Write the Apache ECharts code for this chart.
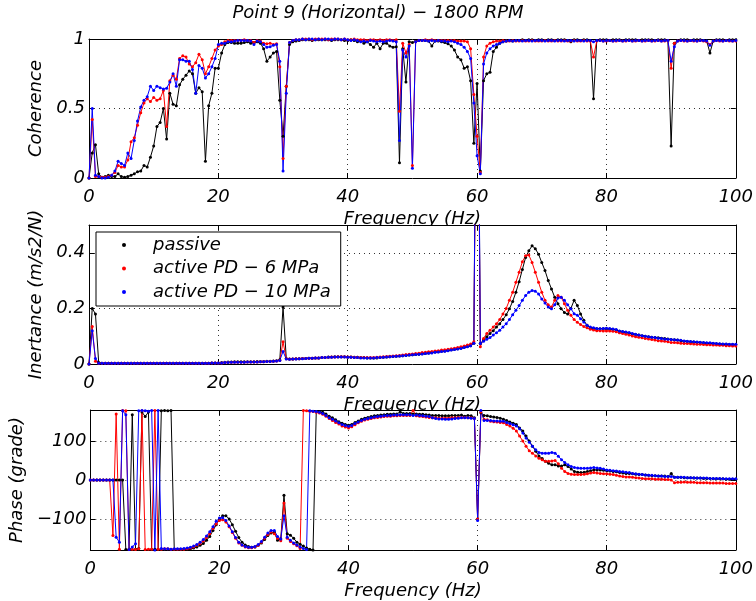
<!DOCTYPE html>
<html><head><meta charset="utf-8">
<script src="https://cdn.jsdelivr.net/npm/echarts@6.0.0/dist/echarts.min.js"></script>
<style>html,body{margin:0;padding:0;background:#fff}#c{width:756px;height:601px}</style>
</head><body><div id="c"></div>
<script>
const TITLE = 'Point 9 (Horizontal) − 1800 RPM';
const SERIES_NAMES = ['passive', 'active PD − 6 MPa', 'active PD − 10 MPa'];
const X_NAME = 'Frequency (Hz)';
const Y_NAMES = ['Coherence', 'Inertance (m/s2/N)', 'Phase (grade)'];
const X_TICKS = [0, 20, 40, 60, 80, 100];
const Y_TICKS_COH = [0, 0.5, 1];
const Y_TICKS_INER = [0, 0.2, 0.4];
const Y_TICKS_PHASE = [-100, 0, 100];

const freq = [
0,0.5,1,1.5,2,2.5,3,3.5,4,4.5,5,5.5,6,6.5,7,7.5,8,8.5,9,9.5,
10,10.5,11,11.5,12,12.5,13,13.5,14,14.5,15,15.5,16,16.5,17,17.5,18,18.5,19,19.5,
20,20.5,21,21.5,22,22.5,23,23.5,24,24.5,25,25.5,26,26.5,27,27.5,28,28.5,29,29.5,
30,30.5,31,31.5,32,32.5,33,33.5,34,34.5,35,35.5,36,36.5,37,37.5,38,38.5,39,39.5,
40,40.5,41,41.5,42,42.5,43,43.5,44,44.5,45,45.5,46,46.5,47,47.5,48,48.5,49,49.5,
50,50.5,51,51.5,52,52.5,53,53.5,54,54.5,55,55.5,56,56.5,57,57.5,58,58.5,59,59.5,
60,60.5,61,61.5,62,62.5,63,63.5,64,64.5,65,65.5,66,66.5,67,67.5,68,68.5,69,69.5,
70,70.5,71,71.5,72,72.5,73,73.5,74,74.5,75,75.5,76,76.5,77,77.5,78,78.5,79,79.5,
80,80.5,81,81.5,82,82.5,83,83.5,84,84.5,85,85.5,86,86.5,87,87.5,88,88.5,89,89.5,
90,90.5,91,91.5,92,92.5,93,93.5,94,94.5,95,95.5,96,96.5,97,97.5,98,98.5,99,99.5,
100];

// Coherence
const cohPassive = [
0,.18,.24,.03,.005,.01,.02,.01,.01,.03,.01,.005,.01,.02,.03,.045,.05,.09,.08,.15,
.23,.37,.40,.50,.28,.61,.53,.52,.67,.71,.74,.77,.75,.61,.65,.62,.12,.52,.61,.79,
.79,.90,.96,.975,.975,.97,.97,.97,.975,.98,.97,.975,.98,.97,.93,.84,.87,.90,.91,.56,
.30,.66,.96,.98,.985,.99,.995,.995,.995,.99,.995,.995,.995,.995,.995,.99,.995,.995,.995,.99,
.99,.995,.99,.98,.99,.97,.98,.96,.94,.97,.93,.97,.97,.95,.94,.945,.11,.93,.69,.98,
.975,.985,.99,.99,.99,.985,.95,.985,.985,.98,.975,.965,.95,.92,.87,.85,.79,.80,.70,.25,
.68,.05,.70,.75,.76,.91,.94,.97,.98,.985,.99,.985,.99,.99,.995,.99,.995,.995,.99,.995,
.995,.99,.995,.995,.99,.995,.995,.995,.99,.98,.995,.995,.99,.995,.995,.99,.57,.99,.995,.995,
.995,.99,.995,.995,.995,.99,.995,.995,.995,.995,.99,.995,.995,.995,.995,.99,.995,.995,.995,.99,
.23,.97,.99,.995,.995,.995,.99,.995,.995,.995,.99,.985,.90,.985,.995,.995,.995,.99,.995,.995,
.995];
const cohPD6 = [
0,.42,.01,.01,.005,.005,.01,.02,.04,.09,.08,.08,.13,.26,.29,.38,.47,.54,.57,.55,
.58,.56,.57,.63,.37,.70,.74,.71,.86,.88,.87,.82,.80,.83,.89,.85,.75,.80,.86,.92,
.95,.96,.98,.99,.99,.99,.99,.99,.995,.99,.99,.975,.99,.985,.97,.965,.97,.96,.965,.80,
.14,.66,.975,.99,.995,.995,1,1,1,.995,1,1,1,1,.995,1,1,1,.995,1,
.995,.995,1,.995,.995,.995,.99,.995,.995,.99,.995,.99,.995,.995,.99,.995,.48,.97,.90,.96,
.09,.98,.99,.99,.995,.99,.995,.99,.99,.99,.99,.99,.99,.99,.985,.985,.985,.98,.93,.60,
.30,.04,.87,.95,.97,.98,.985,.985,.99,.985,.985,.99,.985,.985,.99,.985,.985,.99,.985,.985,
.985,.99,.985,.985,.99,.985,.985,.99,.985,.985,.99,.985,.985,.99,.985,.985,.87,.985,.99,.985,
.985,.99,.985,.985,.99,.985,.985,.99,.985,.985,.99,.985,.985,.99,.985,.985,.99,.985,.985,.99,
.79,.97,.985,.99,.985,.985,.99,.985,.985,.99,.985,.98,.96,.985,.99,.985,.985,.99,.985,.985,
.985];
const cohPD10 = [
0,.50,.02,.01,0,0,.005,.02,.05,.12,.105,.09,.18,.14,.27,.41,.51,.56,.585,.66,
.63,.66,.65,.64,.645,.69,.75,.66,.85,.85,.84,.84,.78,.61,.81,.79,.72,.75,.80,.86,
.96,.97,.97,.98,.98,.985,.99,.99,.99,.99,.985,.96,.985,.98,.96,.94,.945,.955,.96,.84,
.05,.61,.975,.99,.995,.995,1,.995,1,1,.995,1,.995,1,1,.995,1,1,.995,1,
.995,.99,.995,.99,.98,.985,.98,.99,.985,.98,.985,.98,.985,.99,.985,.98,.27,.92,.87,.95,
.07,.98,.99,.99,.99,.985,.99,.985,.99,.985,.985,.98,.985,.98,.97,.96,.94,.91,.86,.54,
.16,.03,.82,.90,.93,.95,.96,.97,.98,.985,.99,.985,.99,.99,.985,.99,.99,.985,.99,.99,
.99,.985,.99,.99,.985,.99,.99,.985,.99,.99,.985,.99,.99,.985,.99,.99,.98,.99,.99,.985,
.99,.99,.985,.99,.99,.985,.99,.99,.985,.99,.99,.985,.99,.99,.985,.99,.99,.985,.99,.99,
.84,.945,.985,.99,.99,.985,.99,.99,.985,.99,.99,.985,.955,.985,.99,.99,.985,.99,.99,.985,
.99];

// Inertance
const inerPassive = [
0,.20,.18,.005,.003,.003,.003,.003,.003,.003,.003,.003,.003,.003,.003,.003,.003,.003,.003,.003,
.003,.003,.003,.003,.003,.003,.003,.003,.003,.003,.003,.003,.003,.003,.003,.003,.003,.003,.004,.004,
.004,.005,.006,.007,.007,.008,.008,.008,.008,.008,.008,.008,.009,.009,.009,.01,.01,.011,.012,.015,
.205,.02,.018,.018,.019,.019,.02,.02,.021,.021,.022,.022,.023,.023,.025,.025,.026,.026,.026,.026,
.025,.025,.024,.024,.023,.023,.022,.022,.022,.022,.023,.024,.025,.026,.027,.028,.029,.03,.031,.032,
.033,.034,.035,.037,.038,.04,.041,.043,.044,.046,.047,.049,.051,.053,.055,.058,.06,.063,.066,.075,
1.6,.074,.086,.098,.11,.12,.133,.145,.16,.177,.199,.225,.258,.296,.34,.383,.407,.425,.415,.395,
.365,.336,.30,.27,.24,.217,.199,.185,.18,.20,.229,.21,.18,.157,.139,.13,.127,.127,.127,.127,
.127,.126,.125,.122,.118,.116,.114,.111,.108,.106,.104,.102,.10,.098,.096,.095,.094,.093,.092,.09,
.088,.087,.086,.084,.082,.081,.08,.079,.078,.077,.076,.075,.074,.074,.073,.072,.071,.071,.07,.07,
.069];
const inerPD6 = [
0,.135,.01,.003,.003,.003,.003,.003,.003,.003,.003,.003,.003,.003,.003,.003,.003,.003,.003,.003,
.003,.003,.003,.003,.003,.003,.003,.003,.003,.003,.003,.003,.003,.003,.003,.003,.003,.003,.004,.004,
.004,.004,.005,.005,.006,.006,.006,.006,.006,.007,.007,.007,.007,.008,.008,.009,.009,.01,.011,.013,
.08,.019,.018,.018,.019,.019,.02,.02,.021,.021,.022,.022,.023,.023,.024,.025,.025,.026,.026,.026,
.025,.025,.024,.024,.023,.023,.023,.023,.023,.024,.025,.026,.027,.028,.029,.03,.031,.032,.034,.035,
.036,.038,.039,.041,.042,.044,.045,.047,.048,.05,.051,.053,.055,.057,.059,.062,.065,.068,.072,.08,
1.5,.062,.092,.11,.121,.133,.145,.16,.18,.20,.229,.258,.294,.33,.368,.389,.392,.365,.33,.294,
.258,.229,.213,.205,.229,.246,.24,.217,.193,.175,.16,.15,.142,.135,.13,.125,.122,.12,.12,.119,
.119,.119,.118,.116,.112,.11,.107,.104,.101,.098,.096,.094,.092,.09,.088,.086,.084,.083,.082,.08,
.077,.077,.076,.075,.074,.074,.073,.072,.071,.071,.07,.069,.069,.068,.068,.067,.067,.066,.066,.065,
.065];
const inerPD10 = [
0,.12,.02,.003,.003,.003,.003,.003,.003,.003,.003,.003,.003,.003,.003,.003,.003,.003,.003,.003,
.003,.003,.003,.003,.003,.003,.003,.003,.003,.003,.003,.003,.003,.003,.003,.003,.003,.003,.004,.004,
.004,.004,.005,.005,.006,.006,.006,.006,.006,.007,.007,.007,.007,.008,.008,.009,.009,.01,.011,.013,
.045,.018,.017,.018,.018,.019,.019,.02,.021,.021,.022,.022,.023,.023,.024,.024,.025,.025,.025,.025,
.024,.024,.023,.023,.022,.022,.022,.022,.022,.023,.023,.024,.025,.026,.027,.028,.029,.03,.031,.032,
.033,.034,.035,.036,.038,.039,.04,.042,.043,.045,.046,.048,.05,.052,.054,.056,.059,.062,.066,.075,
1.7,.074,.082,.089,.095,.104,.112,.121,.133,.145,.16,.177,.193,.21,.229,.246,.258,.264,.262,.252,
.234,.219,.205,.199,.213,.237,.24,.229,.213,.199,.181,.175,.163,.151,.139,.133,.13,.128,.127,.128,
.129,.128,.126,.124,.119,.117,.115,.113,.11,.107,.104,.102,.10,.098,.096,.095,.093,.092,.09,.089,
.088,.087,.086,.085,.083,.082,.081,.08,.079,.078,.077,.076,.076,.075,.074,.073,.072,.072,.071,.071,
.071];

// Phase (degrees)
const phasePassive = [
0,0,0,0,0,0,0,0,0,0,0,-179,-178,168,-178,-176,175,163,175,-179,
-178,-179,178,179,178,179,-179,-179,-179,-178,-178,-177,-175,-172,-168,-163,-155,-145,-130,-115,
-100,-92,-92,-100,-115,-132,-148,-160,-167,-171,-173,-172,-168,-162,-153,-143,-136,-134,-155,-152,
-39,-138,-142,-150,-160,-165,-170,-175,-178,-180,176,176,174,170,164,160,155,150,146,143,
141,143,148,152,156,159,161,163,165,166,167,168,169,169,170,170,175,171,171,171,
170,170,169,169,168,167,166,166,166,165,165,165,166,166,166,167,164,166,165,160,
-100,173,166,165,163,162,161,159,156,153,149,146,143,134,126,113,100,87,74,62,
55,48,43,39,39,36,36,39,35,28,22,20,19,20,22,24,26,26,26,25,
24,23,22,21,19,18,17,17,16,15,14,14,13,12,11,11,10,10,10,9,
17,7,7,7,6,6,6,5,5,5,4,4,4,3,3,3,3,2,2,2,
2];
const phasePD6 = [
0,0,0,0,0,0,0,-143,170,-178,179,178,-179,-178,-179,-177,178,-179,-178,-178,
179,-178,-178,-177,-177,-178,-178,-178,-178,-178,-177,-175,-172,-168,-163,-157,-148,-138,-125,-113,
-104,-102,-108,-120,-135,-150,-162,-168,-172,-174,-174,-172,-168,-160,-150,-140,-134,-138,-150,-156,
-59,-150,-158,-164,-169,-176,179,178,177,176,174,172,169,164,158,153,148,144,139,136,
134,137,142,147,151,154,156,158,160,161,162,163,164,164,165,165,166,166,166,166,
179,165,164,163,162,161,160,160,159,159,159,159,160,160,161,161,161,160,160,158,
-100,175,156,155,151,150,149,148,147,143,139,133,126,113,100,87,75,69,62,56,
52,48,48,49,50,42,30,22,17,15,14,14,14,15,16,18,19,18,17,16,
16,15,14,12,10,9,8,8,7,6,5,4,3,3,3,2,2,2,1,1,
0,-7,-6,-6,-5,-6,-6,-6,-7,-7,-7,-7,-8,-8,-8,-8,-8,-9,-9,-9,
-9];
const phasePD10 = [
0,0,0,0,0,0,0,0,-147,-160,178,168,-179,-172,-164,178,179,178,177,179,
-180,179,-176,-177,-177,-178,-177,-177,-177,-176,-175,-173,-170,-166,-160,-153,-144,-133,-120,-106,
-98,-97,-104,-118,-133,-148,-160,-167,-171,-173,-173,-171,-166,-158,-147,-136,-130,-130,-145,-152,
-92,-147,-155,-162,-167,-172,-176,-179,178,177,176,174,171,166,160,156,152,147,143,140,
138,140,145,149,153,156,158,160,162,163,164,165,166,166,167,167,168,168,168,168,
166,167,166,165,164,163,160,158,157,157,156,156,157,158,159,160,160,160,159,158,
-104,179,153,153,153,152,152,151,151,148,145,142,139,132,121,108,97,87,78,71,
69,69,69,71,69,61,52,45,39,35,32,31,30,30,30,31,32,31,30,28,
26,25,24,23,22,21,20,19,17,16,15,14,13,12,12,11,10,10,9,9,
9,7,7,7,7,6,6,6,5,5,5,5,4,4,4,4,3,3,3,3,
3];

// ---------- presentation ----------
const COLORS = ['#000000', '#ff0000', '#0000ff'];
const FONT = { fontFamily: 'DejaVu Sans', fontStyle: 'italic', fontSize: 18, color: '#000' };
const GRIDS = [
  { left: 89, top: 39, width: 649, height: 139 },
  { left: 89, top: 225, width: 649, height: 139 },
  { left: 89, top: 410, width: 649, height: 140 }
];
const Y_DEFS = [
  { min: 0, max: 1, ticks: Y_TICKS_COH, gap: 37 },
  { min: 0, max: 0.5, ticks: Y_TICKS_INER, gap: 36 },
  { min: -180, max: 180, ticks: Y_TICKS_PHASE, gap: 52 }
];
const DATA = [
  [cohPassive, cohPD6, cohPD10],
  [inerPassive, inerPD6, inerPD10],
  [phasePassive, phasePD6, phasePD10]
];
const lineBlack = { show: true, onZero: false, lineStyle: { color: '#000', width: 1 } };
const dotted = { show: true, lineStyle: { type: [1, 4], color: '#333', width: 1 } };
const fmt = v => String(v).replace('-', '\u2212');

const xAxis = [], yAxis = [], series = [];
GRIDS.forEach((g, i) => {
  xAxis.push({ gridIndex: i, type: 'value', position: 'bottom', min: 0, max: 100, z: 3,
    axisLine: lineBlack,
    axisTick: { show: true, inside: true, length: 5, customValues: X_TICKS, lineStyle: { color: '#000' } },
    axisLabel: Object.assign({ show: true, margin: 10, customValues: X_TICKS, formatter: fmt }, FONT),
    splitLine: dotted });
  xAxis.push({ gridIndex: i, type: 'value', position: 'top', min: 0, max: 100, z: 3,
    axisLine: lineBlack,
    axisTick: { show: true, inside: true, length: 5, customValues: X_TICKS, lineStyle: { color: '#000' } },
    axisLabel: { show: false }, splitLine: { show: false } });
  xAxis.push({ gridIndex: i, type: 'value', position: 'bottom', min: 0, max: 100, z: 0,
    name: X_NAME, nameLocation: 'middle', nameGap: 32, nameTextStyle: FONT,
    axisLine: { show: false, onZero: false }, axisTick: { show: false },
    axisLabel: { show: false }, splitLine: { show: false } });
  const yd = Y_DEFS[i];
  yAxis.push({ gridIndex: i, type: 'value', position: 'left', min: yd.min, max: yd.max, z: 3,
    name: Y_NAMES[i], nameLocation: 'middle', nameGap: yd.gap, nameTextStyle: FONT,
    axisLine: lineBlack,
    axisTick: { show: true, inside: true, length: 5, customValues: yd.ticks, lineStyle: { color: '#000' } },
    axisLabel: Object.assign({ show: true, margin: 4, customValues: yd.ticks, formatter: fmt }, FONT),
    splitLine: dotted });
  yAxis.push({ gridIndex: i, type: 'value', position: 'right', min: yd.min, max: yd.max, z: 3,
    axisLine: lineBlack,
    axisTick: { show: true, inside: true, length: 5, customValues: yd.ticks, lineStyle: { color: '#000' } },
    axisLabel: { show: false }, splitLine: { show: false } });
  DATA[i].forEach((arr, s) => {
    series.push({
      name: SERIES_NAMES[s], type: 'line', xAxisIndex: i * 3, yAxisIndex: i * 2,
      data: freq.map((f, k) => [f, arr[k]]),
      symbol: 'circle', symbolSize: 3, showSymbol: true, showAllSymbol: true,
      lineStyle: { color: COLORS[s], width: 1 }, itemStyle: { color: COLORS[s] },
      z: 4, clip: true, animation: false, emphasis: { disabled: true }
    });
  });
});

const chart = echarts.init(document.getElementById('c'), null, { renderer: 'canvas' });
chart.setOption({
  animation: false,
  backgroundColor: '#fff',
  textStyle: { fontFamily: 'DejaVu Sans' },
  title: { text: TITLE, left: 'center', top: 4, padding: [0, 0, 0, 71],
    textStyle: { fontFamily: 'DejaVu Sans', fontStyle: 'italic', fontWeight: 'normal', fontSize: 18, color: '#000' } },
  legend: { data: SERIES_NAMES, orient: 'vertical', left: 96, top: 232, padding: [3, 10, 4, 26],
    itemGap: 3.5, itemWidth: 4, itemHeight: 4, icon: 'circle',
    backgroundColor: '#fff', borderColor: '#000', borderWidth: 1, borderRadius: 0, z: 10,
    textStyle: Object.assign({ lineHeight: 20, padding: [0, 0, 0, 22] }, FONT) },
  grid: GRIDS.map(g => Object.assign({ show: false }, g)),
  graphic: [1, 2].map(i => ({ type: 'rect', z: 1, silent: true,
    shape: { x: GRIDS[i].left, y: GRIDS[i].top, width: GRIDS[i].width, height: GRIDS[i].height },
    style: { fill: '#fff' } })),
  xAxis: xAxis,
  yAxis: yAxis,
  series: series
});
</script>
</body></html>
